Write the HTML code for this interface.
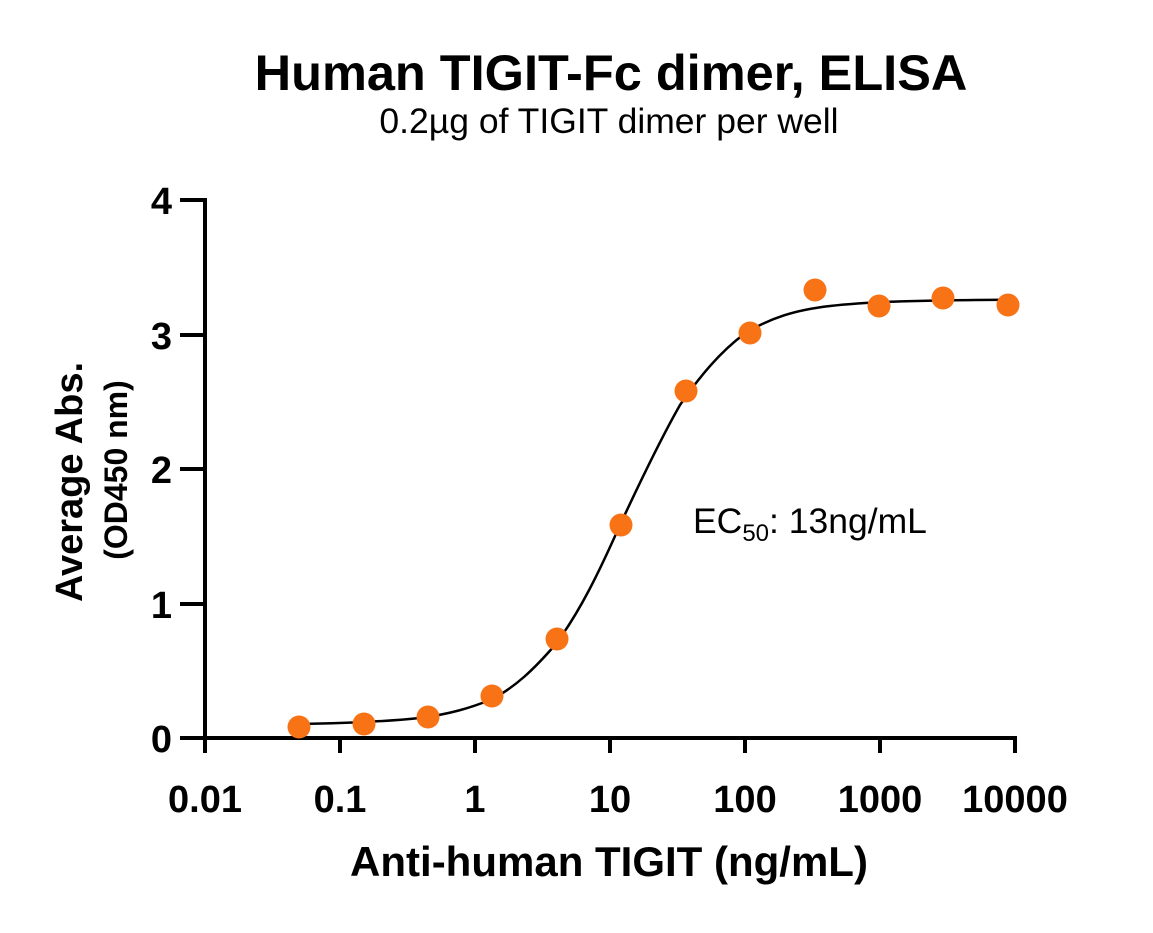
<!DOCTYPE html>
<html><head><meta charset="utf-8"><style>body{margin:0;background:#fff}</style></head>
<body>
<svg width="1153" height="928" xmlns="http://www.w3.org/2000/svg" font-family="Liberation Sans, Arial, sans-serif">
<rect width="1153" height="928" fill="#fff"/>
<text x="611" y="90" font-size="50.5" font-weight="bold" text-anchor="middle">Human TIGIT-Fc dimer, ELISA</text>
<text x="609" y="133" font-size="35.5" text-anchor="middle">0.2µg of TIGIT dimer per well</text>
<g stroke="#000" stroke-width="4" fill="none">
<line x1="205" y1="198" x2="205" y2="753"/>
<line x1="203" y1="738" x2="1017" y2="738"/>
<line x1="180" y1="200" x2="205" y2="200"/>
<line x1="180" y1="335" x2="205" y2="335"/>
<line x1="180" y1="469" x2="205" y2="469"/>
<line x1="180" y1="604" x2="205" y2="604"/>
<line x1="180" y1="738" x2="205" y2="738"/>
<line x1="340" y1="738" x2="340" y2="753"/>
<line x1="475" y1="738" x2="475" y2="753"/>
<line x1="610" y1="738" x2="610" y2="753"/>
<line x1="745" y1="738" x2="745" y2="753"/>
<line x1="880" y1="738" x2="880" y2="753"/>
<line x1="1015" y1="738" x2="1015" y2="753"/>
</g>
<g font-size="38" font-weight="bold" text-anchor="end">
<text x="172" y="214">4</text><text x="172" y="349">3</text><text x="172" y="483">2</text><text x="172" y="618">1</text><text x="172" y="752">0</text>
</g>
<g font-size="38" font-weight="bold" text-anchor="middle">
<text x="205" y="812">0.01</text><text x="340" y="812">0.1</text><text x="475" y="812">1</text><text x="610" y="812">10</text><text x="745" y="812">100</text><text x="880" y="812">1000</text><text x="1015" y="812">10000</text>
</g>
<text x="609" y="876" font-size="42" font-weight="bold" text-anchor="middle">Anti-human TIGIT (ng/mL)</text>
<text transform="translate(82,482) rotate(-90)" font-size="38" font-weight="bold" text-anchor="middle">Average Abs.</text>
<text transform="translate(127,470) rotate(-90)" font-size="32" font-weight="bold" text-anchor="middle">(OD450 nm)</text>
<text x="693" y="533" font-size="35.5">EC<tspan font-size="24" dy="8">50</tspan><tspan dy="-8">: 13ng/mL</tspan></text>
<path d="M299.5,724 C330,723.6 380,722 420,718 C450,714 470,708 490,700 C515,688 535,668 555,645 C580,612 600,570 620,525 C640,482 660,440 680,405 C700,376 720,352 745,333.4 C770,318 795,310 830,306 C870,301.5 920,300.2 1008,299.7" fill="none" stroke="#000" stroke-width="2.5"/>
<g fill="#F87216">
<circle cx="299" cy="727" r="11.5"/><circle cx="364" cy="724" r="11.5"/><circle cx="428" cy="717" r="11.5"/><circle cx="492" cy="696" r="11.5"/><circle cx="557" cy="639" r="11.5"/><circle cx="621" cy="525" r="11.5"/><circle cx="686" cy="391" r="11.5"/><circle cx="750" cy="333" r="11.5"/><circle cx="815" cy="290" r="11.5"/><circle cx="879" cy="306" r="11.5"/><circle cx="943" cy="298" r="11.5"/><circle cx="1008" cy="305" r="11.5"/>
</g>
</svg>
</body></html>
